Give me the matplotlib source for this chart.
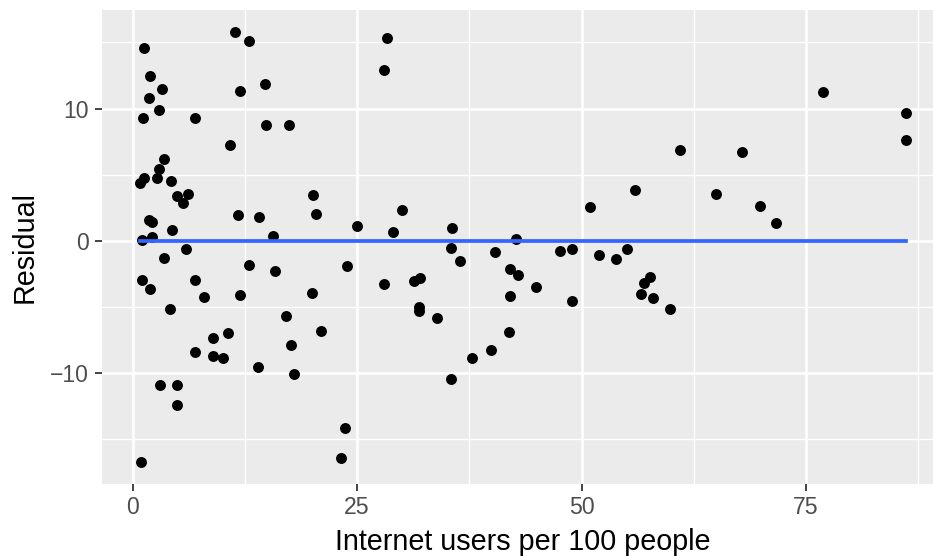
import matplotlib
matplotlib.use("Agg")
import matplotlib.pyplot as plt
import numpy as np

# residuals vs internet users
internet_users = [
    1.26, 1.93, 3.30, 1.85, 2.96, 1.18, 6.97, 11.43, 12.98, 14.70,
    11.98, 14.84, 17.44, 10.84, 3.49, 2.96, 1.26, 0.81, 2.67, 4.23,
    4.90, 6.16, 5.57, 1.85, 2.15, 11.69, 14.06, 4.45, 2.15, 1.04,
    15.62, 5.94, 3.49, 12.98, 15.85, 1.04, 1.93, 6.97, 7.97, 11.98,
    4.15, 17.07, 8.98, 10.58, 17.68, 6.97, 8.98, 10.06, 13.99, 17.96,
    3.04, 4.93, 4.93, 0.96,
    28.35, 27.95, 20.11, 20.41, 24.94, 28.95, 29.96, 35.56, 35.45, 36.45,
    23.86, 19.93, 27.95, 31.33, 31.99, 31.92, 31.92, 33.92, 20.94, 37.75,
    35.45, 23.64, 23.16,
    60.91, 55.90, 50.92, 42.65, 40.31, 47.58, 48.92, 51.93, 53.79, 55.08,
    42.02, 42.94, 44.91, 42.02, 48.92, 57.57, 56.97, 56.60, 57.91, 59.87,
    41.94, 39.93,
    76.87, 86.08, 86.08, 67.88, 64.92, 69.89, 71.67,
]
residual = [
    14.61, 12.49, 11.48, 10.80, 9.89, 9.27, 9.27, 15.82, 15.08, 11.84,
    11.31, 8.79, 8.79, 7.25, 6.22, 5.47, 4.76, 4.38, 4.79, 4.51,
    3.38, 3.58, 2.90, 1.56, 1.44, 1.94, 1.81, 0.81, 0.26, 0.05,
    0.35, -0.63, -1.28, -1.81, -2.31, -2.92, -3.67, -2.97, -4.27, -4.12,
    -5.11, -5.69, -7.33, -6.99, -7.85, -8.41, -8.69, -8.81, -9.49, -10.07,
    -10.90, -10.90, -12.41, -16.74,
    15.33, 12.89, 3.50, 2.02, 1.11, 0.68, 2.34, 0.96, -0.50, -1.53,
    -1.91, -3.90, -3.27, -3.02, -2.84, -4.98, -5.31, -5.82, -6.82, -8.84,
    -10.45, -14.12, -16.43,
    6.85, 3.88, 2.60, 0.11, -0.85, -0.76, -0.60, -1.10, -1.40, -0.60,
    -2.14, -2.54, -3.47, -4.15, -4.55, -2.72, -3.17, -4.00, -4.33, -5.14,
    -6.90, -8.23,
    11.23, 9.70, 7.63, 6.72, 3.53, 2.64, 1.34,
]

x_breaks = [0, 25, 50, 75]
y_breaks = [-10, 0, 10]

plt.rcParams['font.family'] = ['Liberation Sans', 'DejaVu Sans']

W, H = 933, 556
fig = plt.figure(figsize=(W / 100, H / 100), dpi=100)
left, right, top, bottom = 101.5, 944, 10, 484
ax = fig.add_axes([left / W, 1 - bottom / H, (right - left) / W, (bottom - top) / H])

x = np.array(internet_users)
y = np.array(residual)

# ggplot-like 5% expansion
xr = x.max() - x.min()
yr = y.max() - y.min()
ax.set_xlim(x.min() - 0.05 * xr, x.max() + 0.05 * xr)
ax.set_ylim(y.min() - 0.05 * yr, y.max() + 0.05 * yr)

ax.set_facecolor('#EBEBEB')
for s in ax.spines.values():
    s.set_visible(False)

ax.set_xticks(x_breaks)
ax.set_yticks(y_breaks)
ax.set_xticks([12.5, 37.5, 62.5, 87.5], minor=True)
ax.set_yticks([-15, -5, 5, 15], minor=True)
ax.grid(which='major', color='white', linewidth=1.9)
ax.grid(which='minor', color='white', linewidth=1.0)
ax.set_axisbelow(True)

ax.tick_params(which='major', length=5, width=1.3, color='#333333',
               labelcolor='#4D4D4D', labelsize=16.6, pad=4)
ax.tick_params(which='minor', length=0)
ax.set_yticklabels(['\u221210', '0', '10'])

ax.scatter(x, y, s=62, color='black', linewidths=0, zorder=3)
ax.plot([x.min(), x.max()], [0, 0], color='#3366FF', linewidth=2.7, zorder=4)

ax.set_xlabel('Internet users per 100 people', fontsize=20.7, color='black', labelpad=6)
ax.set_ylabel('Residual', fontsize=20.7, color='black', labelpad=8)

fig.savefig('out.png', dpi=100)
